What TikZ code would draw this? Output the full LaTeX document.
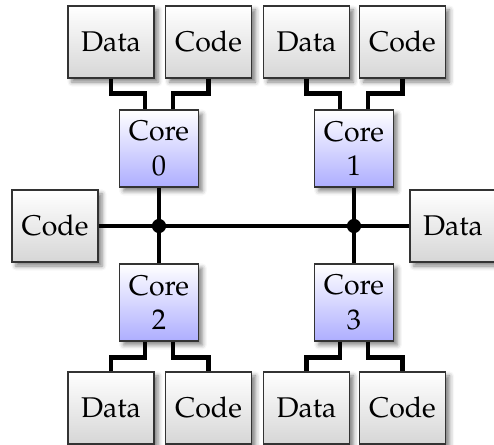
\documentclass[tikz,border=0pt]{standalone}
\IfFileExists{mathpazo.sty}{\usepackage[T1]{fontenc}\usepackage{mathpazo}}{\usepackage{fontspec}\setmainfont{Liberation Serif}}
\usetikzlibrary{calc,shadows}
\IfFileExists{tikzlibraryshadows.blur.code.tex}{%
  \usetikzlibrary{shadows.blur}%
  \tikzset{myshadow/.style={blur shadow={shadow xshift=1.4pt, shadow yshift=-1.4pt, shadow blur radius=1.6pt, shadow opacity=50}}}}{%
  \tikzset{myshadow/.style={drop shadow={shadow xshift=1.4pt, shadow yshift=-1.4pt, opacity=0.4}}}}
\tikzset{
  mem/.style={draw=black!80, thin, minimum width=30.2pt, minimum height=25.3pt, inner sep=0pt,
    top color=white, bottom color=gray!32, myshadow},
  core/.style={draw=black!80, thin, minimum width=27.6pt, minimum height=27pt, inner sep=0pt, align=center,
    top color=white, bottom color=blue!32, myshadow},
  conn/.style={line width=1.6pt},
  junction/.style={circle, fill=black, inner sep=0pt, minimum size=5pt}
}
\begin{document}
\begin{tikzpicture}[x=0.351pt, y=-0.351pt]
\useasboundingbox (0,0) rectangle (494,445);
% top memories
\node[mem] (d0) at (111,42) {Data};
\node[mem] (c0) at (208.5,42) {Code};
\node[mem] (d1) at (306.5,42) {Data};
\node[mem] (c1) at (402.5,42) {Code};
% cores
\node[core] (k0) at (159,148.5) {Core\\0};
\node[core] (k1) at (354,148.5) {Core\\1};
\node[core] (k2) at (159,302.5) {Core\\2};
\node[core] (k3) at (354,302.5) {Core\\3};
% side memories
\node[mem] (lc) at (55,226) {Code};
\node[mem] (rd) at (453,226) {Data};
% bottom memories
\node[mem] (d2) at (111,408) {Data};
\node[mem] (c2) at (208.5,408) {Code};
\node[mem] (d3) at (306.5,408) {Data};
\node[mem] (c3) at (402.5,408) {Code};
% junctions
\node[junction] (j0) at (159,226) {};
\node[junction] (j1) at (354,226) {};
% bus
\draw[conn] (lc.east) -- (j0.center) -- (j1.center) -- (rd.west);
\draw[conn] (k0.south) -- (j0.center) -- (k2.north);
\draw[conn] (k1.south) -- (j1.center) -- (k3.north);
% top connectors
\foreach \m/\k/\s in {d0/k0/-1, c0/k0/1, d1/k1/-1, c1/k1/1}{
  \draw[conn] (\m.south) |- ([xshift=\s*4.9pt,yshift=5.6pt]\k.north) -- ([xshift=\s*4.9pt]\k.north);
}
% bottom connectors
\foreach \m/\k/\s in {d2/k2/-1, c2/k2/1, d3/k3/-1, c3/k3/1}{
  \draw[conn] ([xshift=\s*4.9pt]\k.south) -- ([xshift=\s*4.9pt,yshift=-5.6pt]\k.south) -| (\m.north);
}
\end{tikzpicture}
\end{document}
